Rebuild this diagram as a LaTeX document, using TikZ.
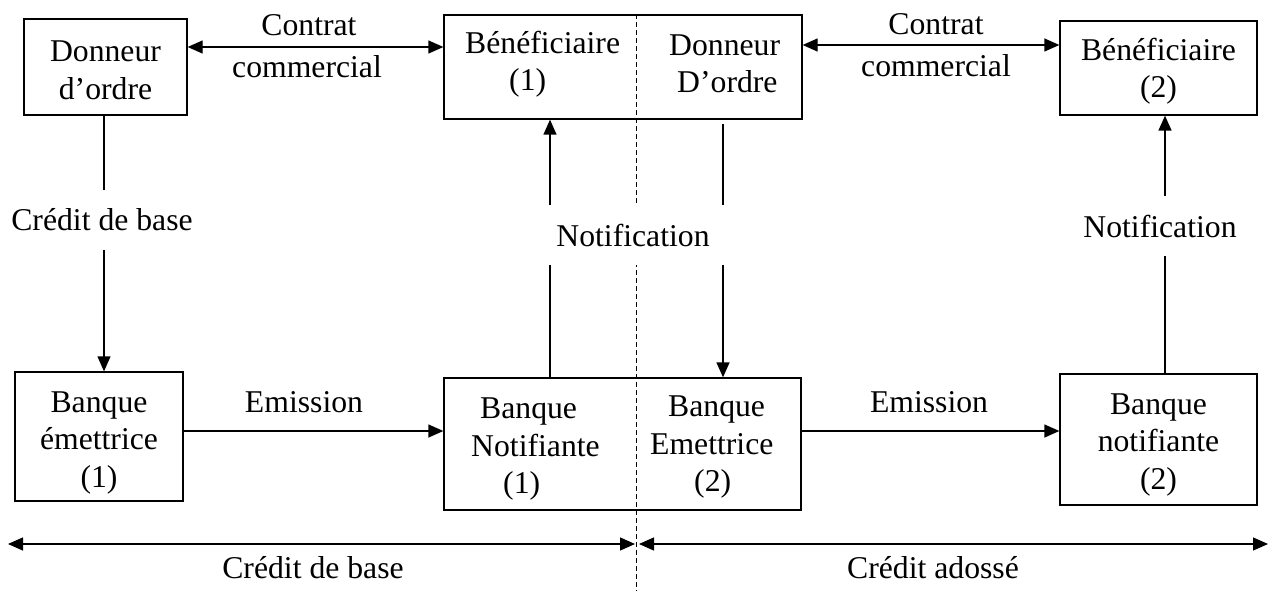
\documentclass[tikz,border=0pt]{standalone}
\usepackage{fontspec}
\setmainfont{Liberation Serif}
\usetikzlibrary{arrows.meta}
\begin{document}
\begin{tikzpicture}[x=1pt,y=-1pt,
  every node/.style={font=\fontsize{31.7}{37.5}\selectfont, inner sep=0pt},
  box/.style={draw, line width=1.3pt},
  conn/.style={line width=1.3pt},
  arr/.style={conn, -{Triangle[length=15pt,width=13pt]}},
  darr/.style={conn, {Triangle[length=15pt,width=13pt]}-{Triangle[length=15pt,width=13pt]}},
  gap/.style={fill=white, minimum height=60pt},
  sep/.style={line width=1pt, dash pattern=on 5pt off 3pt},
]
\useasboundingbox (0,0) rectangle (1269,591);

% boxes
\node[box, minimum width=163pt, minimum height=96pt]  (A) at (105.5,67)   {};
\node[box, minimum width=358pt, minimum height=104pt] (B) at (623,67)     {};
\node[box, minimum width=197pt, minimum height=94pt]  (C) at (1158.5,68)  {};
\node[box, minimum width=168pt, minimum height=129pt] (D) at (99,436.5)   {};
\node[box, minimum width=357pt, minimum height=132pt] (E) at (622.5,444)  {};
\node[box, minimum width=197pt, minimum height=131pt] (F) at (1158.5,439.5) {};

% box texts
\node[align=center] (a1) at ([yshift=-3.5pt]A.center) {Donneur\\d’ordre};
\node[align=center] (c1) at ([yshift=-3pt]C.center) {Bénéficiaire\\(2)};
\node[align=center] (d1) at ([yshift=-6pt]D.center) {Banque\\émettrice\\(1)};
\node[align=center] (f1) at ([yshift=-5pt]F.center) {Banque\\notifiante\\(2)};
\node[align=left, anchor=west] (b1) at (465,64) {Bénéficiaire\\\hspace*{44pt}(1)};
\node[align=left, anchor=west] (b2) at (669,64) {Donneur\\\hspace*{8pt}D’ordre};
\node[align=left, anchor=west] (e1) at (471,449) {\hspace*{9pt}Banque\\Notifiante\\\hspace*{32pt}(1)};
\node[align=left, anchor=west] (e2) at (650,447) {\hspace*{18pt}Banque\\Emettrice\\\hspace*{44pt}(2)};

% guide coordinates
\coordinate (xAD) at (104,0);
\coordinate (xN1) at (550,0);
\coordinate (xDO) at (723,0);
\coordinate (xN2) at (1165,0);
\coordinate (yC1) at (0,47);
\coordinate (yC2) at (0,45);
\coordinate (yEm) at (0,431);
\coordinate (bl)  at (8,544);
\coordinate (bm1) at (635,544);
\coordinate (bm2) at (639,544);
\coordinate (br)  at (1268,544);
\coordinate (dend) at (636,591);

% separation line
\draw[sep] (B.north -| dend) -- (dend);

% connectors
\draw[darr] (A.east |- yC1) -- (B.west |- yC1);
\draw[darr] (B.east |- yC2) -- (C.west |- yC2);
\draw[arr] (A.south -| xAD) -- (D.north -| xAD);
\draw[arr] (E.north -| xN1) -- (B.south -| xN1);
\draw[arr, shorten <=4pt] (B.south -| xDO) -- (E.north -| xDO);
\draw[arr] (F.north -| xN2) -- (C.south -| xN2);
\draw[arr] (D.east |- yEm) -- (E.west |- yEm);
\draw[arr] (E.east |- yEm) -- (F.west |- yEm);
\draw[darr] (bl) -- (bm1);
\draw[darr] (bm2) -- (br);

% labels
\node[anchor=base] (c1a) at (309,36) {Contrat};
\node[anchor=base] (c1b) at (307,78) {commercial};
\node[anchor=base] (c2a) at (936,35) {Contrat};
\node[anchor=base] (c2b) at (936,77) {commercial};
\node[gap] (lcb) at (102,220) {Crédit de base};
\node[gap, minimum width=192pt] (ln1) at (633,235) {Notification};
\node[gap] (ln2) at (1160,226) {Notification};
\node[anchor=base] (em1) at (304,412) {Emission};
\node[anchor=base] (em2) at (929,412) {Emission};
\node[anchor=base] (cb) at (313,578) {Crédit de base};
\node[anchor=base] (ca) at (933,578) {Crédit adossé};
\end{tikzpicture}
\end{document}
